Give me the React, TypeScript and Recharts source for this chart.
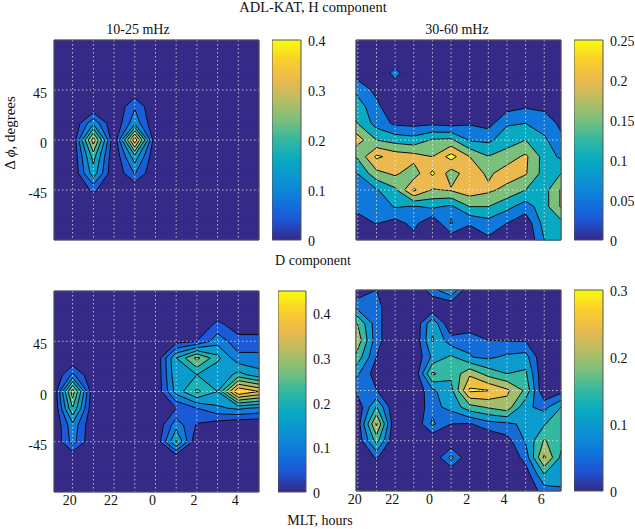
import React from 'react';
import {
  ScatterChart,
  Scatter,
  BarChart,
  Bar,
  XAxis,
  YAxis,
} from 'recharts';

const FONT = '"Liberation Serif", serif';

// latitude difference of each grid row, top to bottom
const dPhi = [90, 75, 60, 45, 30, 15, 0, -15, -30, -45, -60, -75, -90];
const phiTicks = [45, 0, -45];

// hour columns (hours past 24 are the next morning), first and last sit on the frame
const hoursLeft = [19.1, 20, 21, 22, 23, 24, 25, 26, 27, 28, 29];
const hoursRight = [19.9, 21, 22, 23, 24, 25, 26, 27, 28, 29, 30, 30.9];
const gridLeft = [20, 21, 22, 23, 24, 25, 26, 27, 28];
const gridRight = [20, 21, 22, 23, 24, 25, 26, 27, 28, 29, 30];

const none = [0, 0, 0, 0, 0, 0, 0, 0, 0, 0, 0, 0, 0];

// one list per hour column, values follow dPhi
const h10to25 = [
  none,
  none,
  [0, 0, 0, 0.054, 0, 0.14, 0.33, 0.22, 0.18, 0.06, 0, 0, 0],
  none,
  [0, 0, 0, 0.01, 0.094, 0.135, 0.39, 0.18, 0.104, 0, 0, 0, 0],
  none,
  none,
  none,
  none,
  none,
  none,
];

const h30to60 = [
  [0, 0, 0.03, 0.09, 0.13, 0.155, 0.23, 0.15, 0.095, 0.07, 0.06, 0.03, 0],
  [0, 0, 0, 0.035, 0.065, 0.08, 0.15, 0.26, 0.185, 0.095, 0.06, 0.052, 0.01],
  [0, 0, 0.07, 0, 0, 0.04, 0.13, 0.23, 0.21, 0.14, 0.105, 0.03, 0],
  [0, 0, 0, 0, 0, 0.035, 0.12, 0.22, 0.17, 0.26, 0.095, 0.065, 0.03],
  [0, 0, 0, 0.052, 0, 0.04, 0.155, 0.2, 0.26, 0.195, 0.11, 0.005, 0],
  [0, 0, 0, 0, 0, 0.03, 0.16, 0.27, 0.175, 0.205, 0.09, 0.104, 0.015],
  [0, 0, 0, 0, 0, 0.045, 0.095, 0.2, 0.23, 0.23, 0.15, 0.055, 0.01],
  [0, 0, 0, 0, 0, 0.03, 0.09, 0.152, 0.19, 0.21, 0.15, 0.08, 0.04],
  [0, 0, 0, 0, 0.03, 0.095, 0.125, 0.175, 0.225, 0.185, 0.115, 0.05, 0.01],
  [0, 0, 0, 0, 0.045, 0.1, 0.15, 0.21, 0.205, 0.15, 0.075, 0.015, 0],
  [0, 0, 0, 0, 0.04, 0.075, 0.11, 0.13, 0.13, 0.13, 0.13, 0.12, 0.1],
  [0, 0, 0, 0, 0.02, 0.04, 0.06, 0.09, 0.15, 0.205, 0.205, 0.135, 0.105],
];

const d10to25 = [
  none,
  [0, 0, 0, 0, 0, 0.11, 0.33, 0.25, 0.135, 0.12, 0, 0, 0],
  none,
  none,
  none,
  none,
  [0, 0, 0, 0.03, 0.2, 0.19, 0.17, 0.05, 0.13, 0.21, 0, 0, 0],
  [0, 0, 0, 0.05, 0.315, 0.2, 0.26, 0.1, 0.045, 0, 0, 0, 0],
  [0, 0, 0.065, 0.13, 0.215, 0.15, 0.2, 0.14, 0.02, 0, 0, 0, 0],
  [0, 0, 0.02, 0.07, 0.115, 0.22, 0.45, 0.16, 0, 0, 0, 0, 0],
  [0, 0, 0.02, 0.07, 0.115, 0.17, 0.4, 0.14, 0, 0, 0, 0, 0],
];

const d30to60 = [
  [0, 0.09, 0.21, 0.245, 0.19, 0.115, 0.055, 0, 0, 0, 0, 0, 0],
  [0.05, 0.07, 0.07, 0.07, 0.05, 0.022, 0.052, 0.155, 0.26, 0.17, 0.055, 0, 0],
  none,
  none,
  [0.08, 0, 0.14, 0.155, 0.11, 0.21, 0.09, 0.085, 0.11, 0, 0, 0, 0],
  [0.15, 0, 0, 0.07, 0.16, 0.16, 0.135, 0.115, 0.05, 0, 0.116, 0, 0],
  [0, 0, 0, 0.092, 0.102, 0.24, 0.31, 0.18, 0.045, 0, 0, 0, 0],
  [0, 0, 0, 0.05, 0.09, 0.18, 0.302, 0.205, 0.08, 0, 0, 0, 0],
  [0, 0, 0, 0.047, 0.11, 0.15, 0.26, 0.23, 0.09, 0.03, 0, 0, 0],
  [0, 0, 0, 0.045, 0.12, 0.16, 0.19, 0.11, 0.11, 0.105, 0.07, 0.02, 0],
  [0, 0, 0, 0, 0, 0, 0, 0.085, 0.145, 0.205, 0.26, 0.15, 0.075],
  [0, 0, 0, 0, 0, 0, 0.03, 0.15, 0.2, 0.165, 0.14, 0.115, 0.095],
];

const levelsH1 = [0, 0.05, 0.1, 0.15, 0.2, 0.25, 0.3, 0.35];
const levelsH2 = [0, 0.05, 0.1, 0.15, 0.2, 0.25];
const levelsD1 = [0, 0.05, 0.1, 0.15, 0.2, 0.25, 0.3, 0.35, 0.4];
const levelsD2 = [0, 0.05, 0.1, 0.15, 0.2, 0.25, 0.3];

const barTicksH1 = [0, 0.1, 0.2, 0.3, 0.4];
const barTicksH2 = [0, 0.05, 0.1, 0.15, 0.2, 0.25];
const barTicksD1 = [0, 0.1, 0.2, 0.3, 0.4];
const barTicksD2 = [0, 0.1, 0.2, 0.3];

const parula = [
  '#352A87', '#1D55D6', '#0F78DB', '#0D93D2', '#07AAC1', '#33B8A1',
  '#7ABF7C', '#B8BD63', '#EBB94D', '#FACF2D', '#F9FB0E',
];

const colorAt = (t: number) => {
  const pos = Math.min(t, 1) * (parula.length - 1);
  const i = Math.min(Math.floor(pos), parula.length - 2);
  const f = pos - i;
  const ch = (hex: string, k: number) => parseInt(hex.slice(1 + k * 2, 3 + k * 2), 16);
  const mix = [0, 1, 2].map(k => Math.round(ch(parula[i], k) * (1 - f) + ch(parula[i + 1], k) * f));
  return `rgb(${mix.join(',')})`;
};

interface Pt {
  x: number;
  y: number;
}

// cuts every grid cell at one level: the part at or above it, and the line along it
const contourLevel = (hours: number[], cols: number[][], level: number) => {
  const fill: Pt[] = [];
  const counts: number[] = [];
  const line: Pt[] = [];
  const addPoly = (poly: Pt[]) => {
    if (poly.length < 3) return;
    fill.push(...poly);
    counts.push(poly.length);
  };
  for (let i = 0; i < hours.length - 1; i++) {
    for (let j = 0; j < dPhi.length - 1; j++) {
      const corners = [[i, j], [i + 1, j], [i + 1, j + 1], [i, j + 1]];
      const vals = corners.map(([a, b]) => cols[a][b]);
      const pts = corners.map(([a, b]) => ({ x: hours[a], y: dPhi[b] }));
      const edge = (k: number) => {
        const n = (k + 1) % 4;
        const t = (level - vals[k]) / (vals[n] - vals[k]);
        return { x: pts[k].x + (pts[n].x - pts[k].x) * t, y: pts[k].y + (pts[n].y - pts[k].y) * t };
      };
      const up = vals.map(v => v >= level);
      const mean = (vals[0] + vals[1] + vals[2] + vals[3]) / 4;
      // saddle cell with a low centre: the two high corners stay apart
      if (up[0] === up[2] && up[1] === up[3] && up[0] !== up[1] && mean < level) {
        const first = up[0] ? 0 : 1;
        [first, first + 2].forEach(k => {
          const a = edge((k + 3) % 4);
          const b = edge(k % 4);
          addPoly([a, pts[k % 4], b]);
          line.push(a, b);
        });
        continue;
      }
      const poly: Pt[] = [];
      const cross: Pt[] = [];
      for (let k = 0; k < 4; k++) {
        if (up[k]) poly.push(pts[k]);
        if (up[k] !== up[(k + 1) % 4]) {
          const p = edge(k);
          poly.push(p);
          cross.push(p);
        }
      }
      addPoly(poly);
      // saddle with a high centre: lines cut off the low corners
      if (cross.length === 4 && up[0]) line.push(cross[0], cross[1], cross[2], cross[3]);
      else if (cross.length === 4) line.push(cross[1], cross[2], cross[3], cross[0]);
      else line.push(...cross);
    }
  }
  return { fill, counts, line };
};

// pairs of end points for the dotted grid and the frame, in chart units
const gridSegments = (hours: number[], gridHours: number[]) => {
  const out: Pt[] = [];
  gridHours.forEach(h => out.push({ x: h, y: 90 }, { x: h, y: -90 }));
  phiTicks.forEach(p => out.push({ x: hours[0], y: p }, { x: hours[hours.length - 1], y: p }));
  return out;
};

const frameSegments = (hours: number[]) => {
  const a = hours[0];
  const b = hours[hours.length - 1];
  return [
    { x: a, y: 90 }, { x: b, y: 90 },
    { x: b, y: 90 }, { x: b, y: -90 },
    { x: b, y: -90 }, { x: a, y: -90 },
    { x: a, y: -90 }, { x: a, y: 90 },
  ];
};

const NoMark = () => null;

const ringPath = (counts: number[], color: string) => (p: any) => {
  let d = '';
  let at = 0;
  counts.forEach(n => {
    const part = p.points.slice(at, at + n);
    d += 'M' + part.map((q: Pt) => `${q.x},${q.y}`).join('L') + 'Z';
    at += n;
  });
  return <path d={d} fill={color} stroke={color} strokeWidth={0.6} />;
};

const segPath = (stroke: string, width: number, dash?: string, opacity?: number) => (p: any) => {
  let d = '';
  for (let i = 0; i + 1 < p.points.length; i += 2) {
    d += `M${p.points[i].x},${p.points[i].y}L${p.points[i + 1].x},${p.points[i + 1].y}`;
  }
  return <path d={d} fill="none" stroke={stroke} strokeWidth={width} strokeDasharray={dash} strokeOpacity={opacity} />;
};

interface PanelProps {
  hours: number[];
  gridHours: number[];
  cols: number[][];
  levels: number[];
  max: number;
  left: number;
  right: number;
  top: number;
  bottom: number;
  showHours?: boolean;
  showPhi?: boolean;
}

const Panel: React.FC<PanelProps> = ({ hours, gridHours, cols, levels, max, left, right, top, bottom, showHours, showPhi }) => {
  const layers = levels.map(level => ({ level, ...contourLevel(hours, cols, level) }));
  const xDomain = [hours[0], hours[hours.length - 1]];
  return (
    <div style={{ position: 'absolute', left: 0, top: top - 10 }}>
      <ScatterChart
        width={right + 10}
        height={bottom - top + 40}
        margin={{ top: 10, right: 10, bottom: 0, left: 0 }}
      >
        <XAxis
          type="number"
          dataKey="x"
          domain={xDomain}
          ticks={gridHours}
          interval={0}
          height={30}
          axisLine={false}
          tickLine={false}
          tick={
            showHours
              ? (p: any) => (
                  <text x={p.x - 3} y={p.y + 5} textAnchor="middle" fontFamily={FONT} fontSize={14} fill="#111">
                    {p.payload.value % 2 === 0 ? p.payload.value % 24 : ''}
                  </text>
                )
              : false
          }
        />
        <YAxis
          type="number"
          dataKey="y"
          domain={[-90, 90]}
          ticks={phiTicks}
          interval={0}
          width={left}
          axisLine={false}
          tickLine={false}
          tick={
            showPhi
              ? (p: any) => (
                  <text x={47} y={p.y + 8} textAnchor="end" fontFamily={FONT} fontSize={14} fill="#111">
                    {p.payload.value}
                  </text>
                )
              : false
          }
        />
        {layers.map(l => (
          <Scatter
            key={l.level}
            data={l.fill}
            isAnimationActive={false}
            shape={NoMark}
            line={ringPath(l.counts, colorAt(l.level / max))}
          />
        ))}
        {layers.slice(1).map(l => (
          <Scatter
            key={`line-${l.level}`}
            data={l.line}
            isAnimationActive={false}
            shape={NoMark}
            line={segPath('#0a0a14', 1)}
          />
        ))}
        <Scatter
          data={gridSegments(hours, gridHours)}
          isAnimationActive={false}
          shape={NoMark}
          line={segPath('#ffffff', 1, '1.5 2.5', 0.7)}
        />
        <Scatter
          data={frameSegments(hours)}
          isAnimationActive={false}
          shape={NoMark}
          line={segPath('#555', 1)}
        />
      </ScatterChart>
    </div>
  );
};

interface ColorBarProps {
  id: string;
  max: number;
  ticks: number[];
  left: number;
  right: number;
  top: number;
  bottom: number;
}

const ColorBar: React.FC<ColorBarProps> = ({ id, max, ticks, left, right, top, bottom }) => (
  <div style={{ position: 'absolute', left, top: top - 10 }}>
    <BarChart
      width={right - left + 40}
      height={bottom - top + 20}
      data={[{ v: max }]}
      barCategoryGap={0}
      margin={{ top: 10, right: 0, bottom: 10, left: 0 }}
    >
      <defs>
        <linearGradient id={id} x1="0" y1="1" x2="0" y2="0">
          {parula.map((c, i) => (
            <stop key={c} offset={i / (parula.length - 1)} stopColor={c} />
          ))}
        </linearGradient>
      </defs>
      <XAxis hide />
      <YAxis
        orientation="right"
        width={40}
        domain={[0, max]}
        ticks={ticks}
        interval={0}
        axisLine={false}
        tickLine={false}
        tick={(p: any) => (
          <text x={right - left + 7} y={p.y + 6} fontFamily={FONT} fontSize={14} fill="#111">
            {p.payload.value}
          </text>
        )}
      />
      <Bar dataKey="v" fill={`url(#${id})`} stroke="#555" isAnimationActive={false} />
    </BarChart>
  </div>
);

const label = (text: string, x: number, y: number, extra?: React.CSSProperties) => (
  <div
    style={{
      position: 'absolute',
      left: x,
      top: y,
      transform: 'translate(-50%, -50%)',
      whiteSpace: 'nowrap',
      fontFamily: FONT,
      fontSize: 14,
      color: '#111',
      ...extra,
    }}
  >
    {text}
  </div>
);

export default function App() {
  return (
    <div style={{ position: 'absolute', left: 0, top: 0, width: 635, height: 529, overflow: 'hidden', background: '#fff' }}>
      {label('ADL-KAT, H component', 313, 7, { fontSize: 14.5 })}
      {label('10-25 mHz', 138, 30)}
      {label('30-60 mHz', 457, 30)}
      {label('D component', 313, 261)}
      {label('MLT, hours', 320, 521)}
      <div
        style={{
          position: 'absolute',
          left: 10,
          top: 133,
          transform: 'translate(-50%, -50%) rotate(-90deg)',
          whiteSpace: 'nowrap',
          fontFamily: FONT,
          fontSize: 15,
          color: '#111',
        }}
      >
        Δ <i>ϕ</i>, degrees
      </div>

      <Panel hours={hoursLeft} gridHours={gridLeft} cols={h10to25} levels={levelsH1} max={0.4} left={54} right={259} top={40} bottom={240} showPhi />
      <Panel hours={hoursRight} gridHours={gridRight} cols={h30to60} levels={levelsH2} max={0.25} left={356} right={561} top={40} bottom={240} />
      <Panel hours={hoursLeft} gridHours={gridLeft} cols={d10to25} levels={levelsD1} max={0.45} left={54} right={259} top={291} bottom={492} showHours showPhi />
      <Panel hours={hoursRight} gridHours={gridRight} cols={d30to60} levels={levelsD2} max={0.3} left={356} right={561} top={290} bottom={491} showHours />

      <ColorBar id="barH1" max={0.4} ticks={barTicksH1} left={272} right={301} top={40} bottom={240} />
      <ColorBar id="barH2" max={0.25} ticks={barTicksH2} left={574} right={603} top={40} bottom={240} />
      <ColorBar id="barD1" max={0.45} ticks={barTicksD1} left={278} right={306} top={291} bottom={492} />
      <ColorBar id="barD2" max={0.3} ticks={barTicksD2} left={574} right={603} top={290} bottom={491} />
    </div>
  );
}
